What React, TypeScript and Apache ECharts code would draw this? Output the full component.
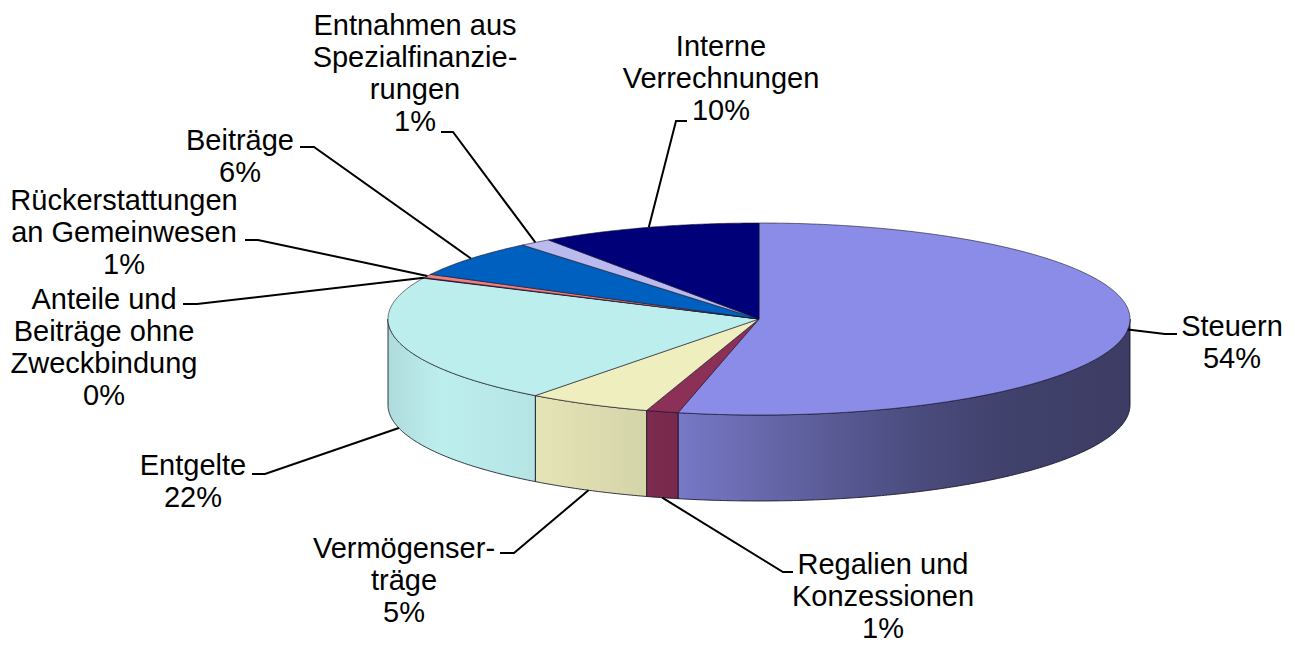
import React, { useEffect, useRef } from "react";
import * as echarts from "echarts";

// ---- data ----
const categories = [
  "Steuern",
  "Regalien und Konzessionen",
  "Vermögenserträge",
  "Entgelte",
  "Anteile und Beiträge ohne Zweckbindung",
  "Rückerstattungen an Gemeinwesen",
  "Beiträge",
  "Entnahmen aus Spezialfinanzierungen",
  "Interne Verrechnungen",
];
const shares = [53.5, 1.4, 5.4, 21.7, 0.1, 0.6, 6.3, 1.4, 9.6];
const labelNames = [
  "Steuern",
  "Regalien und\nKonzessionen",
  "Vermögenser-\nträge",
  "Entgelte",
  "Anteile und\nBeiträge ohne\nZweckbindung",
  "Rückerstattungen\nan Gemeinwesen",
  "Beiträge",
  "Entnahmen aus\nSpezialfinanzie-\nrungen",
  "Interne\nVerrechnungen",
];
const sliceColors = [
  "#8b8ce8",
  "#8c3058",
  "#eeeebe",
  "#bdeeee",
  "#660066",
  "#f08080",
  "#0060c0",
  "#babaee",
  "#000078",
];

// ---- layout (not data) ----
const PIE = { cx: 759, cy: 319, rx: 371, ry: 96, depth: 86 };
const labelCenters = [
  [1232, 342],
  [883, 596],
  [404, 580],
  [193, 481],
  [104, 347],
  [124, 232],
  [240, 156],
  [415, 73],
  [721, 78],
];
const leaderElbows = [
  [1165, 334, 1177],
  [783, 572, 793],
  [514, 553, 500],
  [265, 474, 252],
  [197, 304, 183],
  [258, 240, 245],
  [314, 147, 300],
  [453, 132, 441],
  [676, 121, 687],
];
const sideShadeStops = [
  [0, 0.92],
  [0.07, 1.0],
  [0.2, 0.96],
  [0.35, 0.89],
  [0.4, 0.85],
  [0.55, 0.69],
  [0.7, 0.55],
  [0.82, 0.47],
  [1, 0.43],
];

function shade(hex: string, f: number) {
  const n = parseInt(hex.slice(1), 16);
  const r = Math.min(255, Math.round(((n >> 16) & 255) * f));
  const g = Math.min(255, Math.round(((n >> 8) & 255) * f));
  const b = Math.min(255, Math.round((n & 255) * f));
  return `rgb(${r},${g},${b})`;
}

function pt(theta: number, dy = 0): number[] {
  const r = (theta * Math.PI) / 180;
  return [PIE.cx + PIE.rx * Math.sin(r), PIE.cy - PIE.ry * Math.cos(r) + dy];
}

function arc(a1: number, a2: number, dy: number): number[][] {
  const n = Math.max(2, Math.ceil((a2 - a1) / 0.5) + 1);
  const pts: number[][] = [];
  for (let k = 0; k < n; k++) {
    pts.push(pt(a1 + ((a2 - a1) * k) / (n - 1), dy));
  }
  return pts;
}

export default function App() {
  const ref = useRef<HTMLDivElement>(null);

  useEffect(() => {
    if (!ref.current) return;
    const chart = echarts.init(ref.current, undefined, { renderer: "svg" });
    const total = shares.reduce((a, b) => a + b, 0);
    const starts: number[] = [];
    let acc = 0;
    shares.forEach((v) => {
      starts.push(acc);
      acc += v;
    });

    const option: any = {
      animation: false,
      backgroundColor: "#ffffff",
      series: [
        {
          type: "custom",
          coordinateSystem: "none",
          silent: true,
          data: shares.map((v, i) => ({ name: categories[i], value: [v, i] })),
          renderItem: (params: any, api: any) => {
            const i = params.dataIndex;
            const v = api.value(0);
            const a1 = (starts[i] / total) * 360;
            const a2 = a1 + (v / total) * 360;
            const color = sliceColors[i];
            const children: any[] = [];
            const s1 = Math.max(a1, 90);
            const s2 = Math.min(a2, 270);
            if (s2 > s1) {
              const topPts = arc(s1, s2, 0);
              const botPts = arc(s1, s2, PIE.depth).reverse();
              children.push({
                type: "polygon",
                z2: 1,
                shape: { points: topPts.concat(botPts) },
                style: {
                  fill: {
                    type: "linear",
                    x: PIE.cx - PIE.rx,
                    y: 0,
                    x2: PIE.cx + PIE.rx,
                    y2: 0,
                    global: true,
                    colorStops: sideShadeStops.map(([o, f]) => ({
                      offset: o,
                      color: shade(color, f),
                    })),
                  },
                  stroke: "rgba(20,20,40,0.85)",
                  lineWidth: 1,
                },
              });
            }
            children.push({
              type: "polygon",
              z2: 2,
              shape: { points: [[PIE.cx, PIE.cy]].concat(arc(a1, a2, 0)) },
              style: {
                fill: color,
                stroke: "rgba(20,20,40,0.75)",
                lineWidth: 0.8,
              },
            });
            const mid = (a1 + a2) / 2;
            const front = Math.cos((mid * Math.PI) / 180) < -0.2;
            const anchor = pt(mid, front ? PIE.depth : 0);
            const [ex, ey, hx] = leaderElbows[i];
            children.push({
              type: "polyline",
              z2: 5,
              shape: { points: [anchor, [ex, ey], [hx, ey]] },
              style: { stroke: "#000", lineWidth: 2, fill: null },
            });
            const pct = Math.round((v / total) * 100);
            children.push({
              type: "text",
              z2: 6,
              style: {
                text: `${labelNames[i]}\n${pct}%`,
                x: labelCenters[i][0],
                y: labelCenters[i][1],
                align: "center",
                verticalAlign: "middle",
                fontFamily: "'Liberation Sans', Arial, sans-serif",
                fontSize: 29,
                lineHeight: 32,
                fill: "#000",
              },
            });
            return { type: "group", children };
          },
        },
      ],
    };
    chart.setOption(option);
    return () => chart.dispose();
  }, []);

  return (
    <div
      ref={ref}
      style={{ position: "absolute", left: 0, top: 0, width: 1295, height: 646, background: "#fff" }}
    />
  );
}
